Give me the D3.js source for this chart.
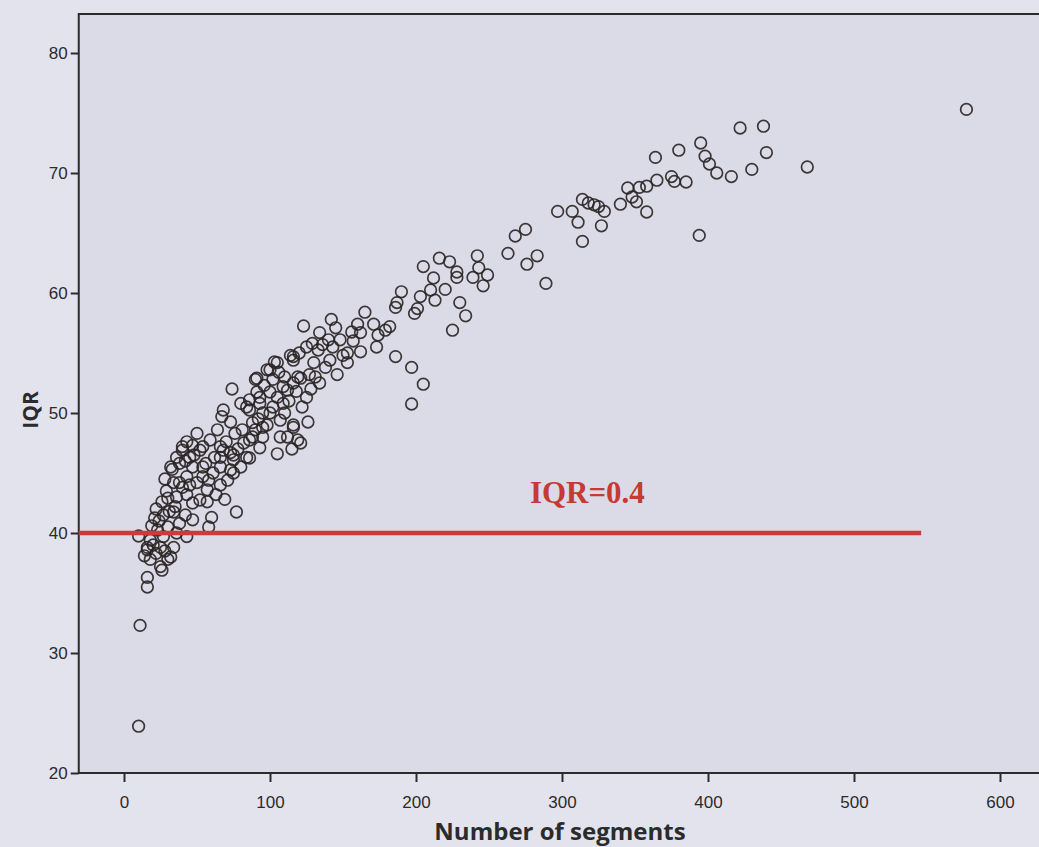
<!DOCTYPE html>
<html>
<head>
<meta charset="utf-8">
<script src="https://cdn.jsdelivr.net/npm/d3@7"></script>
<style>
  body { margin: 0; background: #e3e3ee; }
  svg { display: block; }
  .tick text { font-family: "Liberation Sans", Arial, sans-serif; font-size: 17px; fill: #2b2b2b; }
  .tick line { stroke: #2b2b2b; stroke-width: 2; }
  .domain { stroke: #2b2b2b; stroke-width: 2; }
</style>
</head>
<body>
<script>
// number of segments vs IQR
const segments = [
  577, 422, 438, 440, 395, 398, 401, 406, 416, 430, 468, 394, 364, 380, 365, 375, 377, 385, 358, 345,
  353, 358, 340, 348, 351, 314, 318, 322, 325, 329, 297, 307, 311, 327, 314, 268, 275, 263, 276, 283,
  289, 242, 243, 239, 249, 246, 216, 223, 228, 228, 234, 230, 225, 205, 212, 210, 220, 213, 203, 190,
  187, 186, 201, 199, 165, 171, 160, 182, 179, 174, 162, 156, 145, 134, 123, 148, 140, 136, 162, 173,
  186, 197, 205, 197, 153, 153, 146, 141, 133, 130, 116, 105, 100, 91, 127, 121, 116, 109, 100, 93,
  86, 126, 116, 107, 121, 95, 90, 105, 125, 134, 109, 102, 74, 68, 67, 77, 95, 86, 43, 36,
  33, 26, 21, 10, 16, 14, 32, 25, 16, 16, 60, 58, 57, 34, 71, 73, 66, 11, 10,
  90, 98, 103, 114, 116, 119, 112, 105, 91, 93, 86, 100, 95, 88, 86, 81, 76, 73, 64, 59,
  50, 40, 32, 45, 52, 56, 68, 75, 80, 75, 66, 84, 119, 112,
  40, 47, 54, 66, 73, 75, 54, 47, 43, 38, 30, 36, 43, 47, 52, 57, 50, 54, 61, 27,
  34, 42, 47, 38, 30, 23, 18, 27, 36, 43, 25, 16, 34,
  93, 107, 116,
  20, 22, 28, 19, 24, 31, 29, 35, 40, 45, 38, 42, 48, 28, 22, 18, 30, 26,
  58, 62, 66, 70, 78, 82, 88, 92, 98, 84, 80, 96, 102, 106, 110, 63, 69,
  113, 118, 122, 128, 131, 138, 143, 150, 157, 120, 125, 110, 115, 129, 142
];
const iqr = [
  75.3, 73.75, 73.9, 71.7, 72.5, 71.4, 70.75, 70.0, 69.7, 70.3, 70.5, 64.8, 71.3, 71.9, 69.4, 69.7, 69.3, 69.25, 66.75, 68.75,
  68.8, 68.9, 67.4, 68.0, 67.6, 67.8, 67.5, 67.35, 67.2, 66.8, 66.8, 66.8, 65.9, 65.6, 64.3, 64.75, 65.3, 63.3, 62.4, 63.1,
  60.8, 63.1, 62.1, 61.3, 61.5, 60.6, 62.9, 62.6, 61.75, 61.3, 58.1, 59.2, 56.9, 62.2, 61.25, 60.25, 60.3, 59.4, 59.7, 60.1,
  59.2, 58.8, 58.7, 58.3, 58.4, 57.4, 57.4, 57.2, 56.9, 56.5, 56.7, 56.75, 57.1, 56.7, 57.25, 56.1, 56.1, 55.7, 55.1, 55.5,
  54.7, 53.8, 52.4, 50.75, 55.0, 54.2, 53.2, 54.4, 55.25, 54.2, 54.7, 54.2, 53.6, 52.9, 53.2, 52.9, 52.5, 52.2, 51.75, 51.3,
  51.1, 49.25, 49.0, 48.0, 47.5, 50.0, 48.6, 46.6, 51.3, 52.5, 50.8, 50.5, 52.0, 50.25, 49.7, 41.75, 48.0, 46.25, 47.6, 46.3,
  45.3, 42.6, 41.25, 39.75, 38.8, 38.1, 38.0, 37.2, 36.3, 35.5, 41.3, 40.5, 42.6, 44.2, 44.4, 45.25, 46.3, 32.3, 23.9,
  52.8, 53.6, 54.25, 54.8, 54.4, 53.0, 51.9, 51.3, 51.75, 50.8, 50.25, 50.0, 48.8, 49.2, 47.75, 48.6, 48.3, 49.25, 48.6, 47.75,
  48.3, 46.9, 45.5, 46.3, 46.9, 45.8, 46.9, 46.5, 45.5, 45.0, 45.5, 46.3, 47.75, 48.0,
  47.2, 47.3, 47.2, 47.2, 46.7, 46.1, 45.5, 45.5, 44.7, 44.2, 42.9, 43.0, 43.2, 42.5, 42.75, 43.6, 44.2, 44.7, 45.0, 41.5,
  41.75, 41.5, 41.1, 40.8, 40.5, 40.25, 39.4, 39.7, 40.0, 39.7, 38.8, 38.6, 38.8,
  47.1, 49.4, 48.8,
  39.0, 38.3, 38.5, 40.6, 41.0, 41.8, 43.5, 42.2, 43.8, 44.0, 45.8, 46.0, 46.5, 44.5, 42.0, 37.8, 37.8, 36.9,
  44.4, 46.3, 44.0, 47.6, 47.0, 47.5, 48.0, 49.5, 49.0, 50.5, 50.8, 52.3, 52.8, 53.4, 53.0, 43.2, 42.8,
  51.0, 51.8, 50.5, 52.0, 53.0, 53.8, 55.5, 54.8, 56.0, 55.0, 55.5, 50.0, 47.0, 55.8, 57.8
];
const xTicks = [0, 100, 200, 300, 400, 500, 600];
const yTicks = [20, 30, 40, 50, 60, 70, 80];
const cutoff = 40;          // IQR=0.4 reference line
const cutoffEnd = 546;      // line stops here on the x axis
const cutoffLabel = 'IQR=0.4';

const width = 1039, height = 847;

const x = d3.scaleLinear().domain([0, 600]).range([124, 1000]);
const y = d3.scaleLinear().domain([20, 80]).range([773, 53]);
const xMin = -31, yMax = 83.25;

const svg = d3.select('body')
  .append('svg')
  .attr('width', width)
  .attr('height', height);

svg.append('rect')
  .attr('width', width)
  .attr('height', height)
  .attr('fill', '#e3e3ee');

// plot area
svg.append('rect')
  .attr('x', x(xMin))
  .attr('y', y(yMax))
  .attr('width', width + 10 - x(xMin))
  .attr('height', y(20) - y(yMax))
  .attr('fill', '#dbdbe7')
  .attr('stroke', '#2b2b2b')
  .attr('stroke-width', 2);

svg.append('g')
  .attr('transform', `translate(0, ${y(20)})`)
  .call(d3.axisBottom(x).tickValues(xTicks).tickSize(9).tickPadding(14).tickSizeOuter(0))
  .call(g => g.select('.domain').attr('d', `M${x(xMin)},0H${width + 10}`));

svg.append('g')
  .attr('transform', `translate(${x(xMin)}, 0)`)
  .call(d3.axisLeft(y).tickValues(yTicks).tickSize(8).tickPadding(3).tickSizeOuter(0))
  .call(g => g.select('.domain').remove());

// points
svg.append('g')
  .selectAll('circle')
  .data(segments)
  .enter()
  .append('circle')
  .attr('cx', d => x(d))
  .attr('cy', (d, i) => y(iqr[i]))
  .attr('r', 5.8)
  .attr('fill', 'none')
  .attr('stroke', '#2a2424')
  .attr('stroke-width', 1.7)
  .attr('opacity', 0.9);

// reference line
svg.append('line')
  .attr('x1', x(xMin))
  .attr('x2', x(cutoffEnd))
  .attr('y1', y(cutoff))
  .attr('y2', y(cutoff))
  .attr('stroke', '#cc3b3b')
  .attr('stroke-width', 4.5);

svg.append('text')
  .attr('x', x(278))
  .attr('y', y(42.5))
  .attr('font-family', '"Liberation Serif", "Times New Roman", serif')
  .attr('font-weight', 'bold')
  .attr('font-size', 31)
  .attr('fill', '#c63a32')
  .text(cutoffLabel);

// axis titles
svg.append('text')
  .attr('x', 560)
  .attr('y', 840)
  .attr('text-anchor', 'middle')
  .attr('font-family', '"Open Sans", sans-serif')
  .attr('font-weight', 'bold')
  .attr('font-size', 24)
  .attr('fill', '#2b2b2b')
  .text('Number of segments');

svg.append('text')
  .attr('transform', 'translate(38, 410) rotate(-90)')
  .attr('text-anchor', 'middle')
  .attr('font-family', '"Open Sans", sans-serif')
  .attr('font-weight', 'bold')
  .attr('font-size', 21)
  .attr('fill', '#2b2b2b')
  .text('IQR');
</script>
</body>
</html>
